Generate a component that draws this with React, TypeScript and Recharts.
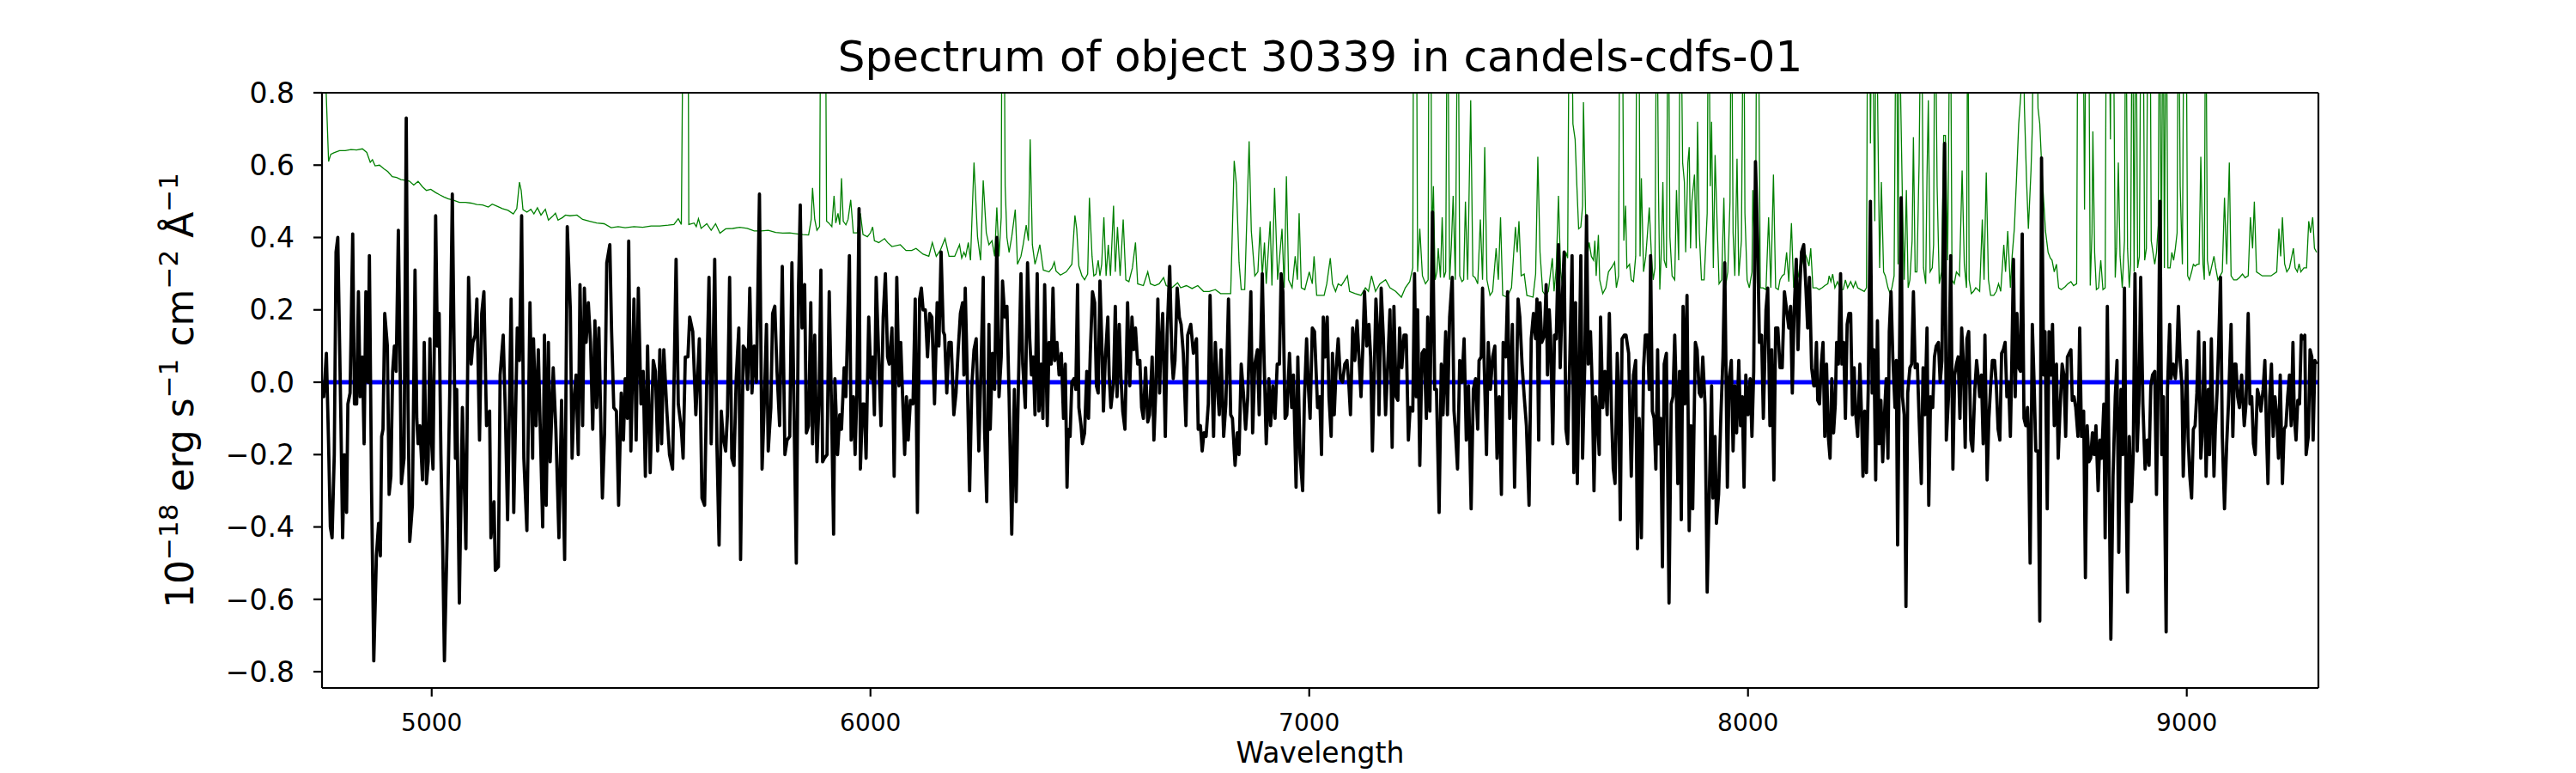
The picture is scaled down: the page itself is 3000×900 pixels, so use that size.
import { LineChart, Line, XAxis, YAxis, ReferenceLine } from "recharts";

const fluxPoints: [number, number][] = [
  [4747,-0.02],[4754,-0.04],[4760,0.08],[4765,-0.17],[4769,-0.40],[4773,-0.43],[4778,-0.20],[4782,0.36],[4786,0.40],[4793,-0.10],
  [4797,-0.43],[4801,-0.20],[4806,-0.36],[4809,-0.06],[4814,-0.03],[4820,0.41],[4824,-0.06],[4829,-0.06],[4833,0.25],[4837,-0.04],
  [4842,0.07],[4846,-0.17],[4850,0.25],[4855,0.0],[4858,0.35],[4863,-0.30],[4868,-0.77],[4874,-0.48],[4879,-0.39],[4883,-0.48],
  [4886,-0.15],[4889,-0.13],[4893,0.19],[4899,0.10],[4903,-0.31],[4907,-0.26],[4911,0.03],[4915,0.10],[4919,0.03],[4924,0.42],
  [4928,0.05],[4931,-0.28],[4937,-0.21],[4942,0.73],[4946,-0.05],[4950,-0.44],[4956,-0.34],[4962,0.31],[4966,-0.10],[4969,-0.17],
  [4973,-0.12],[4979,-0.27],[4983,0.11],[4988,-0.28],[4992,-0.22],[4996,0.12],[5000,-0.17],[5003,-0.24],[5009,0.46],[5013,0.10],
  [5017,0.19],[5021,-0.20],[5025,-0.45],[5029,-0.77],[5035,-0.44],[5041,-0.04],[5047,0.52],[5054,-0.21],[5057,-0.02],[5063,-0.61],
  [5070,-0.07],[5078,-0.46],[5084,0.29],[5090,0.05],[5094,0.11],[5099,0.13],[5103,0.23],[5109,-0.16],[5114,0.19],[5119,0.25],
  [5125,-0.12],[5132,-0.08],[5135,-0.43],[5142,-0.33],[5145,-0.52],[5152,-0.51],[5156,0.02],[5163,0.13],[5168,-0.09],[5173,-0.38],
  [5181,0.23],[5187,-0.36],[5195,0.15],[5200,0.06],[5205,0.46],[5210,-0.21],[5217,-0.41],[5224,0.22],[5230,-0.21],[5232,0.12],
  [5238,-0.12],[5243,0.09],[5253,-0.40],[5257,0.13],[5261,-0.34],[5266,0.11],[5270,-0.22],[5277,0.04],[5283,-0.13],[5290,-0.43],
  [5296,-0.05],[5303,-0.49],[5309,0.43],
  [5316,0.20],[5320,-0.21],[5324,-0.06],[5329,0.02],[5334,-0.20],[5338,0.27],[5344,-0.12],[5348,0.26],[5352,0.11],[5357,0.22],
  [5362,0.11],[5367,-0.13],[5372,0.17],[5376,-0.07],[5381,0.15],[5389,-0.32],[5394,-0.14],[5399,0.33],[5406,0.38],[5410,0.14],
  [5415,-0.07],[5421,-0.08],[5426,-0.34],[5432,-0.03],[5437,-0.16],[5441,0.01],[5446,-0.10],[5449,0.39],[5454,-0.19],[5461,0.23],
  [5466,-0.16],[5471,0.26],[5477,-0.06],[5482,0.03],[5487,-0.26],[5492,0.10],[5498,-0.25],[5505,0.06],[5510,0.03],[5515,-0.19],
  [5520,0.09],[5524,-0.17],[5529,0.09],[5536,-0.08],[5542,-0.20],[5549,-0.24],[5557,0.34],[5562,-0.06],[5569,-0.13],[5573,-0.21],
  [5578,0.07],[5584,0.07],[5588,0.18],[5595,0.14],[5602,-0.09],[5610,0.12],[5616,-0.32],[5622,-0.34],[5627,0.01],[5632,0.29],
  [5637,-0.17],[5641,0.05],[5645,0.34],[5650,-0.17],[5655,-0.45],[5660,-0.08],[5664,-0.15],[5670,-0.19],[5674,-0.09],[5679,0.29],
  [5684,-0.21],[5689,-0.23],[5694,0.01],[5700,0.15],[5704,-0.49],[5710,0.10],[5715,0.09],[5720,-0.02],[5725,0.26],[5730,-0.03],
  [5735,0.10],[5740,0.00],[5747,0.52],[5753,-0.24],[5758,-0.06],[5763,0.16],[5767,-0.19],[5773,-0.07],[5777,0.19],[5782,0.21],
  [5787,0.03],[5793,-0.12],[5799,0.32],[5805,-0.20],[5810,-0.16],[5816,-0.15],[5821,0.33],[5826,-0.10],[5831,-0.50],[5836,0.26],
  [5840,0.49],[5844,0.15],[5850,0.27],[5854,-0.14],[5859,-0.12],[5864,0.22],[5868,-0.17],[5873,0.13],[5878,-0.22],
  [5883,-0.04],[5887,0.31],[5891,-0.22],[5895,-0.21],[5901,-0.20],[5906,0.25],[5912,-0.12],[5916,-0.42],[5919,0.01],[5925,-0.20],
  [5930,-0.09],[5934,-0.13],[5940,0.04],[5944,-0.04],[5952,0.35],[5956,-0.16],[5961,-0.04],[5965,-0.20],[5969,-0.03],[5974,0.48],
  [5977,-0.24],[5982,-0.06],[5986,-0.06],[5990,-0.21],[5996,0.18],[6001,0.01],[6005,0.07],[6009,-0.09],[6013,0.29],[6019,0.06],
  [6024,-0.12],[6029,0.18],[6034,0.30],[6039,0.07],[6043,0.05],[6049,0.15],[6054,-0.26],[6060,0.29],[6065,-0.01],[6069,0.11],
  [6073,-0.03],[6078,-0.20],[6082,-0.04],[6086,-0.16],[6091,-0.05],[6097,-0.06],[6102,0.23],[6107,-0.36],[6112,0.23],[6116,0.26],
  [6120,0.20],[6125,0.20],[6130,0.07],[6135,0.19],[6140,0.18],[6146,-0.06],[6152,0.22],[6156,0.10],[6161,0.36],[6166,0.14],
  [6169,0.13],[6174,-0.03],[6179,0.11],[6184,0.11],[6190,-0.09],[6195,-0.03],[6200,0.09],[6205,0.19],[6210,0.22],[6213,0.02],
  [6216,0.26],[6221,0.00],[6226,-0.30],[6231,-0.01],[6236,0.09],[6241,0.12],[6247,-0.19],[6252,0.04],[6257,0.29],[6260,-0.13],
  [6265,-0.33],[6270,0.16],[6273,-0.13],[6278,0.08],[6283,-0.02],[6288,0.40],[6293,-0.04],[6298,0.07],[6301,0.28],[6306,0.18],
  [6311,0.21],[6316,-0.04],[6322,-0.42],[6328,-0.02],[6332,-0.33],[6337,-0.02],[6343,0.30],[6347,0.05],[6353,-0.07],[6358,0.33],
  [6363,0.12],[6367,0.02],[6371,0.07],[6375,-0.09],[6380,0.30],[6384,-0.08],[6389,0.05],[6393,-0.10],[6397,0.27],[6403,-0.12],
  [6407,0.11],[6412,0.05],[6416,0.26],[6420,0.06],[6425,0.11],[6430,0.02],[6435,0.08],[6440,-0.10],[6444,0.05],[6448,-0.29],
  [6451,-0.13],[6455,-0.15],[6459,0.00],[6464,0.01],[6468,-0.02],[6472,0.27],[6475,-0.07],[6480,-0.12],[6483,-0.17],[6488,-0.14],
  [6493,0.03],[6497,-0.10],[6501,0.08],[6506,0.25],[6511,0.22],[6515,-0.01],[6519,-0.03],[6523,0.28],[6527,0.12],[6531,-0.08],
  [6535,0.06],[6541,0.18],[6544,0.02],[6548,-0.07],[6554,0.00],[6558,0.21],[6562,-0.04],[6567,0.16],[6571,0.01],[6575,-0.08],
  [6580,-0.13],[6586,0.22],[6591,-0.01],[6596,0.18],[6600,0.09],[6604,0.15],[6609,0.05],[6614,0.06],[6618,-0.07],[6622,-0.10],
  [6627,0.04],[6632,-0.11],[6636,-0.09],[6642,0.07],[6646,-0.16],[6650,-0.03],[6655,0.23],[6659,-0.03],[6661,0.07],[6666,0.19],
  [6672,-0.15],[6676,0.13],[6682,0.32],[6687,0.07],[6690,0.01],[6694,0.06],[6699,0.26],[6704,0.18],[6708,0.16],[6713,0.08],
  [6719,-0.12],[6723,0.13],[6730,0.16],[6736,0.08],[6743,0.12],[6747,-0.13],[6752,-0.12],[6756,-0.19],[6760,-0.14],[6765,-0.15],
  [6770,-0.06],[6774,0.24],[6779,-0.02],[6782,-0.15],[6786,0.11],[6792,-0.04],[6795,-0.09],[6799,0.09],[6805,-0.15],[6810,-0.06],
  [6816,0.23],[6821,-0.09],[6825,-0.10],[6831,-0.23],[6836,-0.14],[6840,-0.20],[6845,0.05],[6850,-0.03],[6855,-0.13],[6860,-0.04],
  [6867,0.25],[6871,-0.14],[6876,0.05],[6882,0.09],[6886,-0.09],[6893,0.30],[6897,0.07],[6902,-0.17],[6908,0.01],[6912,-0.12],
  [6917,-0.01],[6922,-0.10],[6927,0.05],[6932,0.05],[6936,0.30],[6940,0.25],[6945,-0.10],[6949,-0.09],[6955,0.08],[6960,-0.07],
  [6964,0.02],[6970,-0.29],[6974,0.07],[6979,-0.20],[6985,-0.30],[6989,-0.05],[6994,0.12],[6998,-0.01],[7002,-0.10],[7007,0.15],
  [7012,0.14],
  [7019,-0.07],[7024,-0.04],[7028,-0.20],[7032,0.18],[7037,0.07],[7041,0.18],[7045,-0.04],[7050,-0.15],[7053,0.08],[7057,-0.09],
  [7061,0.03],[7066,0.12],[7071,0.01],[7076,0.00],[7081,0.05],[7086,0.06],[7090,0.00],[7094,-0.09],[7099,0.15],[7104,0.06],
  [7109,0.17],[7113,0.08],[7118,-0.04],[7122,0.09],[7126,0.25],[7131,0.10],[7136,0.16],[7140,0.07],[7144,-0.19],[7148,0.02],
  [7152,0.23],[7156,0.14],[7159,-0.09],[7164,0.26],[7169,0.12],[7174,-0.09],[7178,0.02],[7184,0.20],[7189,-0.18],[7193,0.21],
  [7198,-0.04],[7202,-0.05],[7206,0.15],[7211,0.04],[7216,0.13],[7221,0.13],[7226,-0.16],[7230,-0.07],[7236,-0.08],[7240,0.30],
  [7244,-0.04],[7247,0.20],[7252,-0.23],[7257,0.08],[7262,0.09],[7267,-0.10],[7270,0.18],[7275,-0.08],[7278,0.18],[7281,0.47],
  [7286,-0.02],[7290,-0.02],[7296,-0.36],[7301,0.05],[7305,-0.09],[7311,0.14],[7315,-0.09],[7320,0.18],[7326,0.29],[7330,-0.08],
  [7333,-0.13],[7338,-0.24],[7343,0.06],[7348,0.00],[7353,0.12],[7358,-0.16],[7363,-0.01],[7369,-0.35],[7374,-0.02],[7379,0.01],
  [7384,-0.13],[7387,0.06],[7392,0.07],[7395,0.26],[7399,0.04],[7404,-0.20],[7408,0.11],[7413,-0.02],[7418,0.07],[7423,0.10],
  [7428,-0.21],[7433,-0.04],[7438,-0.31],[7442,0.11],[7448,0.07],[7452,0.25],[7457,-0.10],[7463,0.16],[7468,-0.29],[7472,-0.02],
  [7476,0.23],[7480,0.18],[7485,0.05],[7490,-0.04],[7495,-0.12],[7501,-0.34],[7506,0.12],[7511,0.19],[7516,0.12],[7519,0.23],
  [7523,-0.16],[7526,0.22],[7530,0.11],[7536,0.13],[7540,0.27],[7543,0.02],[7547,0.20],[7550,0.13],[7555,-0.17],[7559,0.13],
  [7563,0.12],[7568,0.38],[7572,0.04],[7576,0.21],[7581,0.36],[7585,-0.13],
  [7589,-0.17],[7594,0.07],[7599,0.35],[7603,-0.25],[7607,0.22],[7611,-0.28],[7615,0.02],[7619,0.35],[7623,-0.21],[7628,0.05],
  [7632,0.46],[7636,0.05],[7641,0.14],[7645,-0.01],[7649,-0.30],[7653,-0.04],[7657,-0.10],[7661,-0.20],[7664,0.18],[7669,-0.07],
  [7674,0.03],[7679,-0.09],[7684,0.19],[7689,-0.09],[7693,-0.24],[7697,-0.28],[7702,0.08],[7705,-0.02],[7709,-0.38],[7713,0.12],
  [7718,0.13],[7722,0.13],[7728,0.08],[7731,-0.09],[7734,-0.26],[7739,0.02],[7744,0.06],[7748,-0.46],[7752,-0.10],[7757,-0.43],
  [7762,0.04],[7766,0.13],[7771,0.13],[7775,-0.02],[7778,0.35],[7782,-0.08],[7786,-0.10],[7790,-0.24],[7794,0.09],[7797,-0.17],
  [7801,-0.10],[7805,-0.51],[7809,0.05],[7814,0.08],[7820,-0.61],[7825,-0.06],[7829,-0.04],[7833,0.13],[7837,-0.05],[7840,-0.28],
  [7844,0.03],[7848,-0.38],[7852,0.21],[7856,-0.06],[7861,0.24],[7866,-0.41],[7870,-0.12],[7874,-0.35],[7880,0.11],[7884,0.09],
  [7889,-0.03],[7893,-0.04],[7897,0.07],[7902,-0.06],[7907,-0.58],[7912,-0.30],[7917,-0.01],[7920,-0.32],[7925,-0.15],[7928,-0.39],
  [7933,-0.31],[7938,-0.10],[7943,0.07],[7947,0.33],[7953,-0.29],[7957,0.01],[7962,0.06],[7966,-0.19],[7970,-0.01],[7974,-0.14],
  [7979,0.06],[7983,-0.12],[7987,-0.04],[7991,-0.29],[7995,0.02],[8000,-0.09],[8005,0.01],[8009,-0.15],[8013,0.03],[8017,0.61],
  [8022,0.39],[8026,0.11],[8031,0.13],[8035,-0.10],[8041,0.20],[8045,0.26],[8050,-0.12],[8054,0.09],[8059,-0.27],[8063,0.15],
  [8068,0.15],[8073,0.04],[8078,0.04],[8083,0.25],[8088,0.20],[8093,0.15],[8097,0.21],[8101,-0.03],[8105,0.19],[8110,0.34],
  [8114,0.09],[8118,0.26],[8122,0.36],[8127,0.38],[8132,0.26],[8136,0.15],[8140,0.29],[8145,0.04],[8150,-0.01],
  [8152,-0.01],[8156,0.11],[8159,-0.05],[8163,-0.06],[8167,0.05],[8171,0.11],[8175,-0.15],[8179,0.05],[8183,-0.15],[8187,-0.21],
  [8191,0.01],[8195,-0.14],[8199,-0.06],[8202,0.11],[8206,0.05],[8211,0.30],[8214,0.05],[8218,0.11],[8222,-0.10],[8226,0.16],
  [8230,0.19],[8234,0.19],[8238,-0.09],[8242,0.04],[8245,-0.08],[8250,-0.15],[8255,0.05],[8259,-0.10],[8262,-0.26],[8266,-0.08],
  [8270,-0.25],[8274,-0.02],[8279,0.50],[8283,-0.03],[8287,0.09],[8291,-0.27],[8295,0.17],[8299,-0.17],[8303,-0.05],[8307,-0.22],
  [8311,-0.09],[8315,0.01],[8319,-0.21],[8322,0.14],[8326,0.25],[8330,0.07],[8335,-0.07],[8338,0.06],[8341,-0.45],[8345,0.05],
  [8349,0.51],[8352,-0.04],[8356,-0.09],[8360,-0.62],[8364,-0.03],[8369,0.04],[8373,0.05],[8377,0.25],[8381,0.04],[8386,0.05],
  [8390,-0.10],[8395,-0.28],[8399,0.04],[8403,-0.09],[8408,0.15],[8412,-0.34],[8416,-0.04],[8421,-0.07],[8425,0.07],[8429,0.10],
  [8434,0.11],[8438,0.00],[8442,0.06],[8448,0.66],[8452,-0.16],[8457,-0.04],[8462,0.35],[8467,-0.24],[8471,0.02],[8475,0.05],
  [8479,0.07],[8483,-0.10],[8487,0.15],[8491,0.05],[8495,-0.18],[8499,0.12],[8503,0.14],[8508,-0.16],[8512,-0.19],[8517,-0.02],
  [8521,0.06],[8525,0.01],[8528,-0.04],[8532,0.02],[8536,-0.17],[8540,0.13],[8545,-0.27],[8549,-0.10],[8553,-0.01],[8557,0.06],
  [8562,0.06],[8566,-0.01],[8570,-0.13],[8574,-0.16],[8578,0.08],[8582,0.09],[8586,0.11],[8590,-0.04],[8594,0.00],[8598,-0.15],
  [8601,0.04],[8605,0.34],[8609,-0.04],[8613,0.19],[8617,0.04],[8621,0.03],[8625,0.41],[8629,-0.10],[8633,-0.12],[8637,-0.07],
  [8639,-0.13],[8643,-0.50],[8648,0.16],[8652,0.00],[8656,-0.19],[8661,-0.19],[8665,-0.66],[8669,0.62],[8674,0.02],[8677,0.14],
  [8682,-0.35],[8686,0.14],[8690,0.02],[8694,0.16],[8698,-0.12],[8703,0.05],[8707,-0.21],[8711,-0.08],[8716,0.05],
  [8720,0.02],[8724,-0.15],[8728,0.07],[8732,0.08],[8736,0.09],[8739,-0.05],[8743,-0.04],[8747,-0.07],[8752,-0.15],[8756,0.15],
  [8760,-0.15],[8765,-0.08],[8769,-0.54],[8773,-0.12],[8777,-0.22],[8781,-0.21],[8785,-0.14],[8789,-0.20],[8793,-0.12],[8798,-0.30],
  [8802,-0.16],[8806,-0.21],[8811,-0.06],[8814,-0.43],[8819,0.21],[8823,-0.26],[8827,-0.71],[8832,-0.26],[8837,-0.04],[8841,0.06],
  [8845,-0.47],[8850,-0.02],[8854,-0.20],[8858,0.26],[8862,-0.33],[8865,-0.58],[8869,-0.15],[8874,-0.33],[8878,-0.20],[8882,0.30],
  [8887,-0.19],[8891,-0.05],[8895,0.29],[8900,-0.06],[8905,-0.24],[8910,-0.16],[8914,-0.23],[8918,-0.01],[8922,0.02],[8927,0.03],
  [8931,-0.31],[8935,0.02],[8939,0.50],[8943,-0.20],[8947,-0.04],[8953,-0.69],[8956,-0.02],[8961,0.16],[8964,0.01],[8969,0.05],
  [8974,0.01],[8977,0.06],[8981,0.21],[8985,0.06],[8989,-0.01],[8992,-0.26],[8996,-0.09],[9000,0.06],[9003,-0.15],[9007,-0.26],
  [9011,-0.32],[9015,-0.13],[9019,-0.12],[9023,-0.03],[9027,0.14],[9032,-0.21],[9035,-0.15],[9040,0.11],[9044,-0.26],[9049,-0.02],
  [9052,-0.20],[9056,0.12],[9062,-0.26],[9065,-0.13],[9069,-0.03],[9073,0.12],[9077,0.29],[9081,-0.15],[9086,-0.35],[9091,-0.17],
  [9095,-0.06],[9101,0.16],[9105,-0.15],[9109,0.05],[9112,0.05],[9116,-0.04],[9120,-0.07],[9125,0.02],[9131,-0.12],[9135,-0.06],
  [9140,0.19],[9144,-0.06],[9148,-0.04],[9152,-0.17],[9156,-0.20],[9161,-0.02],[9165,-0.04],[9169,-0.08],[9174,-0.02],[9178,0.06],
  [9182,-0.15],[9185,-0.28],[9189,-0.04],[9193,0.05],[9197,-0.15],[9201,-0.04],[9205,-0.09],[9209,-0.21],[9213,0.02],[9218,-0.28],
  [9222,-0.13],[9226,-0.12],[9230,-0.04],[9234,0.02],[9238,-0.12],[9242,0.11],[9245,-0.09],[9249,-0.16],[9253,-0.05],[9257,-0.06],
  [9261,0.13],[9265,0.12],[9269,0.13],[9272,-0.20],[9277,-0.15],[9281,0.09],[9285,0.07],[9288,-0.16],[9292,0.06],[9296,0.05],
];

// uncertainty (green); 1.2 marks places where it runs off the top of the axes
const errorPoints: [number, number][] = [
  [4748,1.2],[4765,0.61],[4770,0.63],[4777,0.634],[4790,0.64],[4803,0.64],[4816,0.643],[4829,0.642],[4842,0.645],[4852,0.635],
  [4860,0.608],[4865,0.615],[4871,0.598],[4881,0.6],[4891,0.59],[4900,0.582],[4910,0.568],[4920,0.566],[4930,0.56],[4940,0.558],
  [4949,0.556],[4959,0.545],[4969,0.555],[4979,0.54],[4988,0.53],[4998,0.533],[5008,0.525],[5018,0.518],[5028,0.512],[5037,0.507],
  [5050,0.503],[5063,0.497],[5077,0.497],[5090,0.495],[5103,0.491],[5116,0.49],[5129,0.484],[5138,0.492],[5148,0.487],[5161,0.48],
  [5174,0.475],[5186,0.465],[5194,0.48],[5200,0.553],[5204,0.53],[5208,0.477],[5217,0.47],[5226,0.478],[5233,0.465],[5241,0.482],
  [5249,0.462],[5259,0.478],[5266,0.448],[5275,0.458],[5282,0.467],[5288,0.448],[5298,0.455],[5305,0.462],[5315,0.46],
  [5331,0.462],[5344,0.45],[5360,0.445],[5376,0.44],[5393,0.438],[5409,0.427],[5425,0.43],[5441,0.427],[5461,0.43],[5481,0.428],
  [5500,0.432],[5520,0.432],[5539,0.434],[5552,0.436],[5562,0.452],[5569,0.436],[5574,1.2],[5578,1.2],[5584,1.2],[5586,0.436],
  [5598,0.44],[5603,0.43],[5608,0.452],[5614,0.425],[5627,0.438],[5637,0.42],[5647,0.438],[5657,0.412],[5670,0.424],[5686,0.425],
  [5702,0.428],[5719,0.425],[5735,0.418],[5751,0.418],[5767,0.42],[5784,0.414],[5800,0.412],[5816,0.413],[5833,0.41],[5846,0.408],
  [5859,0.407],[5865,0.45],[5868,0.537],[5873,0.45],[5878,0.42],
  [5884,0.43],[5887,1.2],[5897,1.2],[5900,0.445],[5905,0.44],[5912,0.43],[5917,0.515],[5921,0.44],[5926,0.467],[5930,0.435],
  [5934,0.564],[5938,0.445],[5944,0.435],[5949,0.45],[5955,0.504],[5961,0.413],[5970,0.413],[5977,0.467],[5983,0.408],[5993,0.402],
  [6000,0.413],[6005,0.429],[6009,0.391],[6019,0.386],[6032,0.397],[6039,0.386],[6049,0.375],[6068,0.38],[6081,0.364],[6094,0.364],
  [6104,0.37],[6120,0.354],[6133,0.348],[6141,0.386],[6150,0.348],[6159,0.364],[6170,0.397],[6179,0.348],[6192,0.348],[6203,0.38],
  [6208,0.343],[6213,0.359],[6217,0.348],[6223,0.386],[6228,0.337],[6236,0.607],[6244,0.402],[6251,0.337],[6257,0.558],[6264,0.413],
  [6270,0.38],[6277,0.391],[6283,0.348],[6288,0.483],[6293,0.348],[6298,0.456],[6300,1.2],[6304,1.2],[6307,0.542],[6311,0.4],
  [6316,0.359],[6322,0.402],[6330,0.477],[6335,0.326],[6343,0.348],[6348,0.38],[6355,0.434],[6360,0.391],[6364,0.671],[6369,0.38],
  [6375,0.326],[6380,0.348],[6386,0.38],[6394,0.31],[6407,0.305],[6414,0.316],[6419,0.332],[6423,0.307],[6433,0.296],[6446,0.305],
  [6453,0.316],[6459,0.326],[6466,0.461],[6470,0.424],[6475,0.321],[6482,0.294],[6488,0.283],[6495,0.299],[6499,0.51],[6505,0.348],
  [6509,0.294],[6514,0.299],[6519,0.337],[6523,0.294],[6527,0.326],[6532,0.456],[6537,0.294],[6542,0.38],[6547,0.294],[6554,0.488],
  [6558,0.305],[6563,0.429],[6569,0.294],[6576,0.45],[6582,0.283],[6589,0.278],[6597,0.316],[6604,0.386],[6609,0.272],[6622,0.267],
  [6632,0.305],[6638,0.272],[6648,0.267],[6658,0.272],[6668,0.289],[6674,0.267],[6687,0.261],[6700,0.275],[6707,0.261],[6720,0.267],
  [6733,0.259],[6746,0.267],[6759,0.251],[6772,0.251],[6786,0.256],[6798,0.245],[6821,0.245],[6829,0.612],[6834,0.547],[6840,0.332],
  [6845,0.256],[6853,0.256],[6863,0.666],[6868,0.418],[6876,0.294],[6883,0.305],[6888,0.429],[6893,0.294],[6898,0.386],[6902,0.272],
  [6911,0.445],[6915,0.267],[6921,0.537],[6928,0.283],[6938,0.424],[6943,0.261],[6948,0.569],[6953,0.283],[6961,0.261],[6968,0.348],
  [6973,0.283],[6977,0.467],[6982,0.261],[6990,0.256],[7000,0.305],[7007,0.272],[7011,0.348],[7017,0.24],
  [7034,0.24],[7040,0.272],[7048,0.343],[7053,0.272],[7060,0.251],[7066,0.272],[7073,0.267],[7079,0.278],[7087,0.294],[7092,0.251],
  [7105,0.245],[7118,0.24],[7128,0.261],[7135,0.251],[7142,0.294],[7151,0.251],[7161,0.272],[7174,0.283],[7184,0.261],[7197,0.251],
  [7210,0.235],[7219,0.261],[7229,0.278],[7236,0.316],[7238,1.2],[7244,1.2],[7247,0.305],[7252,0.424],[7258,0.294],[7265,0.272],
  [7271,0.283],[7273,1.2],[7277,1.2],[7279,0.4],[7283,0.542],[7287,0.283],[7291,0.305],[7294,0.37],[7299,0.289],[7303,0.456],
  [7307,0.289],[7311,0.305],[7315,1.2],[7320,0.283],[7324,0.38],[7328,0.515],[7333,0.283],[7339,1.2],[7343,0.294],[7348,0.278],
  [7352,0.283],[7356,0.499],[7361,0.283],[7368,0.779],[7373,0.294],[7378,0.289],[7384,0.272],[7390,0.45],[7395,0.283],[7400,0.65],
  [7405,0.283],[7412,0.24],[7418,0.251],[7426,0.37],[7431,0.283],[7436,0.456],[7441,0.24],[7451,0.235],[7461,0.261],[7465,0.337],
  [7470,0.429],[7474,0.359],[7478,0.445],[7483,0.294],[7490,0.299],[7496,0.24],[7510,0.235],[7516,0.299],[7521,0.623],[7526,0.359],
  [7532,0.251],[7539,0.24],[7545,0.251],[7554,0.343],[7558,0.251],[7563,0.316],[7568,0.515],[7573,0.305],[7579,0.251],[7585,0.359],
  [7589,0.343],[7593,1.2],[7597,1.2],[7601,0.714],[7606,0.671],[7610,0.542],[7614,0.424],[7619,0.429],[7623,0.488],[7625,0.774],
  [7630,0.456],[7634,0.348],[7638,0.386],[7643,0.348],[7648,0.337],[7651,0.391],[7654,0.294],[7659,0.407],[7662,0.283],[7669,0.245],
  [7676,0.261],[7682,0.305],[7691,0.321],[7696,0.332],[7700,0.261],[7705,0.294],[7708,1.2],[7713,1.2],[7717,0.391],[7721,0.488],
  [7724,0.316],[7730,0.326],[7734,0.283],[7739,0.278],[7744,0.348],[7747,1.2],[7751,1.2],[7754,0.348],[7757,0.564],[7762,0.305],
  [7767,0.348],[7771,0.413],[7775,0.483],[7780,0.348],[7784,0.283],[7788,0.316],[7792,1.2],[7796,0.531],[7799,0.256],[7803,0.38],
  [7806,0.553],[7809,0.337],[7814,0.316],[7818,1.2],[7822,0.402],[7827,0.294],[7833,0.283],[7837,0.531],[7842,0.337],[7846,1.2],
  [7851,0.607],[7855,0.553],[7858,0.359],[7863,0.607],[7866,0.65],[7869,0.37],[7872,0.499],[7878,0.574],[7882,0.37],[7885,0.72],
  [7889,0.413],[7894,0.283],[7900,0.283],[7907,0.467],[7910,1.2],[7914,0.542],[7917,0.72],[7921,0.316],[7925,0.628],[7930,0.424],
  [7934,0.272],[7940,0.283],[7945,0.51],[7949,0.267],[7954,0.305],[7959,0.499],[7962,1.2],[7966,0.413],[7970,0.294],[7975,0.618],
  [7979,0.294],[7985,0.391],[7990,1.2],[7993,0.467],[7998,0.283],[8003,0.261],[8009,0.305],[8011,0.531],[8017,0.272],[8020,1.2],
  [8023,1.2],[8028,0.261],[8034,0.261],[8041,0.256],[8047,0.456],[8052,0.261],[8058,0.574],[8063,0.261],[8069,0.256],[8073,0.283],
  [8078,0.294],[8083,0.299],[8088,0.359],[8093,0.278],[8099,0.44],[8104,0.261],[8109,0.316],[8114,0.289],[8119,0.326],[8123,0.326],
  [8129,0.359],[8134,0.343],[8139,0.321],[8143,0.37],[8148,0.261],
  [8156,0.261],[8162,0.256],[8169,0.261],[8175,0.267],[8182,0.272],[8185,0.294],[8189,0.278],[8193,0.299],[8198,0.261],[8204,0.278],
  [8211,0.256],[8217,0.256],[8222,0.283],[8227,0.261],[8234,0.278],[8240,0.261],[8245,0.278],[8250,0.261],[8257,0.256],[8265,0.251],
  [8270,0.261],[8273,1.2],[8277,1.2],[8279,0.66],[8283,1.2],[8286,0.8],[8289,0.445],[8292,1.2],[8296,0.714],[8300,0.316],
  [8304,0.553],[8309,0.305],[8313,0.294],[8319,0.261],[8324,0.245],[8328,0.261],[8333,0.294],[8338,1.2],[8342,0.326],[8345,1.2],
  [8348,0.779],[8352,0.499],[8356,0.283],[8361,0.531],[8365,0.261],[8369,0.283],[8374,0.391],[8377,0.677],[8381,0.305],[8385,0.305],
  [8390,0.607],[8395,1.2],[8400,0.316],[8405,0.272],[8408,0.574],[8411,0.779],[8415,0.305],[8420,0.316],[8423,0.38],[8426,1.2],
  [8431,0.542],[8436,0.272],[8441,0.305],[8446,0.682],[8450,0.682],[8455,0.337],[8461,1.2],[8465,0.283],[8470,0.272],[8475,0.305],
  [8482,0.294],[8488,0.585],[8493,0.326],[8498,0.261],[8501,1.2],[8504,0.283],[8509,0.245],[8514,0.251],[8519,0.261],[8524,0.256],
  [8528,0.251],[8534,0.45],[8538,0.283],[8543,0.58],[8548,0.283],[8553,0.24],[8560,0.24],[8566,0.251],[8571,0.272],[8576,0.251],
  [8583,0.38],[8587,0.305],[8592,0.418],[8598,0.261],[8602,0.348],[8607,0.424],[8612,0.564],[8617,0.714],[8622,0.8],[8625,1.2],
  [8630,0.757],[8635,0.553],[8639,0.424],[8645,0.585],[8648,0.704],[8652,1.2],[8656,1.2],[8661,0.757],[8665,0.714],[8669,0.607],
  [8674,0.499],[8678,0.418],[8684,0.359],[8689,0.343],[8693,0.337],[8698,0.305],[8703,0.326],[8708,0.261],[8714,0.256],
  [8723,0.264],[8729,0.272],[8736,0.278],[8742,0.267],[8749,0.272],[8752,1.2],[8758,1.2],[8763,1.2],[8767,0.477],[8771,1.2],
  [8776,1.2],[8780,0.267],[8784,0.413],[8786,0.693],[8790,0.359],[8794,0.256],[8799,0.261],[8804,0.337],[8809,0.256],[8814,0.261],
  [8817,1.2],[8822,1.2],[8826,0.671],[8828,1.2],[8832,1.2],[8837,0.289],[8840,0.37],[8844,0.607],[8848,0.348],[8853,0.261],
  [8858,0.391],[8861,1.2],[8865,0.37],[8869,0.261],[8872,0.326],[8876,1.2],[8880,0.305],[8884,1.2],[8888,0.316],[8892,0.348],
  [8896,1.2],[8900,1.2],[8904,0.337],[8908,0.37],[8912,1.2],[8916,1.2],[8919,0.391],[8923,0.359],[8927,0.326],[8931,0.359],
  [8935,0.434],[8938,1.2],[8942,0.305],[8946,1.2],[8949,0.316],[8953,1.2],[8957,0.316],[8962,0.316],[8966,0.359],[8970,0.337],
  [8974,0.37],[8978,0.413],[8981,1.2],[8985,0.542],[8990,0.326],[8994,1.2],[8998,1.2],[9002,0.294],[9006,0.283],[9011,0.305],
  [9015,0.326],[9019,0.321],[9024,0.326],[9028,0.326],[9032,0.623],[9037,0.326],[9040,0.283],[9043,1.2],[9047,0.337],[9052,0.294],
  [9056,0.316],[9062,0.348],[9066,0.316],[9071,0.283],[9076,0.294],[9081,0.305],[9086,0.51],[9091,0.326],[9097,0.607],[9101,0.294],
  [9107,0.283],[9114,0.283],[9120,0.289],[9127,0.299],[9133,0.289],[9140,0.294],[9145,0.456],[9150,0.37],[9154,0.499],[9159,0.305],
  [9166,0.299],[9172,0.294],[9179,0.294],[9185,0.294],[9192,0.294],[9198,0.299],[9205,0.305],[9210,0.424],[9214,0.348],[9218,0.456],
  [9223,0.327],[9228,0.305],[9234,0.316],[9243,0.37],[9247,0.316],[9252,0.305],[9256,0.327],[9260,0.305],[9267,0.316],[9273,0.316],
  [9278,0.445],[9282,0.413],[9287,0.456],[9291,0.37],[9296,0.359],
];

// model (blue), flat at zero over the whole range
const modelPoints: [number, number][] = [[4750, 0], [9300, 0]];

const xTicks = [5000, 6000, 7000, 8000, 9000];
const yTicks = [-0.8, -0.6, -0.4, -0.2, 0, 0.2, 0.4, 0.6, 0.8];
const xDomain: [number, number] = [4750, 9300];
const yDomain: [number, number] = [-0.845, 0.8];

const titleText = "Spectrum of object 30339 in candels-cdfs-01";
const xLabelText = "Wavelength";

const FONT = "DejaVu Sans";
const rows = (pts: [number, number][]) => pts.map(([w, f]) => ({ w, f }));

const fmtY = (v: number) => (v < 0 ? "\u2212" : "") + Math.abs(v).toFixed(1);

export default function App() {
  const sup = 31;
  const rise = 18;
  return (
    <div style={{ position: "absolute", left: 0, top: 0, width: 3000, height: 900, background: "#fff" }}>
      <LineChart width={3000} height={900} margin={{ top: 108, right: 300, bottom: 39, left: 275 }}>
        <XAxis
          dataKey="w"
          type="number"
          domain={xDomain}
          allowDataOverflow
          ticks={xTicks}
          height={60}
          tickSize={10}
          tickMargin={20}
          axisLine={{ stroke: "#000", strokeWidth: 2.2 }}
          tickLine={{ stroke: "#000", strokeWidth: 2.2 }}
          tick={{ fill: "#000", fontSize: 28, fontFamily: FONT }}
        />
        <YAxis
          dataKey="f"
          type="number"
          domain={yDomain}
          allowDataOverflow
          ticks={yTicks}
          width={100}
          tickSize={10}
          tickMargin={22}
          tickFormatter={fmtY}
          axisLine={{ stroke: "#000", strokeWidth: 2.2 }}
          tickLine={{ stroke: "#000", strokeWidth: 2.2 }}
          tick={{ fill: "#000", fontSize: 33, fontFamily: FONT }}
        />
        <Line
          data={rows(errorPoints)}
          dataKey="f"
          type="linear"
          stroke="#008000"
          strokeWidth={1.3}
          dot={false}
          isAnimationActive={false}
        />
        <Line
          data={rows(modelPoints)}
          dataKey="f"
          type="linear"
          stroke="#0000ff"
          strokeWidth={5}
          dot={false}
          isAnimationActive={false}
        />
        <Line
          data={rows(fluxPoints)}
          dataKey="f"
          type="linear"
          stroke="#000"
          strokeWidth={3.8}
          strokeLinejoin="round"
          dot={false}
          isAnimationActive={false}
        />
        <ReferenceLine y={0.8} stroke="#000" strokeWidth={2.2} />
        <ReferenceLine x={9300} stroke="#000" strokeWidth={2.2} />
      </LineChart>
      <svg
        width={3000}
        height={900}
        style={{ position: "absolute", left: 0, top: 0, pointerEvents: "none" }}
        fontFamily={FONT}
      >
        <text x={1537.5} y={83} textAnchor="middle" fontSize={50} fill="#000">
          {titleText}
        </text>
        <text x={1537.5} y={888} textAnchor="middle" fontSize={33} fill="#000">
          {xLabelText}
        </text>
        <text transform="rotate(-90)" x={-454.5} y={225} textAnchor="middle" fontSize={44} fill="#000">
          10
          <tspan dy={-rise} fontSize={sup}>{"\u221218"}</tspan>
          <tspan dy={rise}>{" erg s"}</tspan>
          <tspan dy={-rise} fontSize={sup}>{"\u22121"}</tspan>
          <tspan dy={rise}>{" cm"}</tspan>
          <tspan dy={-rise} fontSize={sup}>{"\u22122"}</tspan>
          <tspan dy={rise}>{" \u00c5"}</tspan>
          <tspan dy={-rise} fontSize={sup}>{"\u22121"}</tspan>
        </text>
      </svg>
    </div>
  );
}
